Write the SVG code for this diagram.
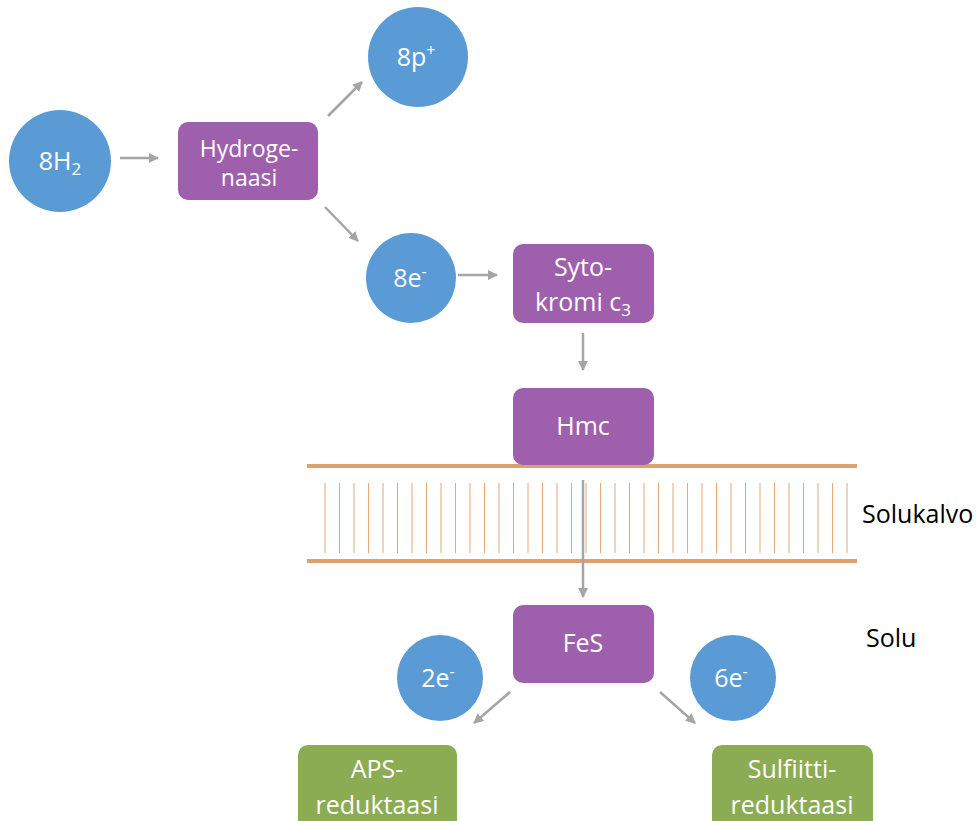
<svg xmlns="http://www.w3.org/2000/svg" width="979" height="821" viewBox="0 0 979 821">
<defs>
<marker id="ah" viewBox="0 0 10 10" refX="9" refY="5" markerWidth="4" markerHeight="4" orient="auto" markerUnits="strokeWidth">
<path d="M0,0 L10,5 L0,10 z" fill="#A5A5A5"/>
</marker>
<style>
.c{fill:#5B9BD5}
.p{fill:#9E5FAD}
.g{fill:#8BAC53}
.t{font-family:"Open Sans","Liberation Sans",sans-serif;fill:#fff;text-anchor:middle;font-size:25px}
.s{font-size:23px}
.k{font-family:"Open Sans","Liberation Sans",sans-serif;fill:#000;font-size:25px}
.a{stroke:#A5A5A5;stroke-width:2.5;fill:none;marker-end:url(#ah)}
.m{stroke:#DDA170;stroke-width:4}
.v{stroke:#E6A875;stroke-width:1}
</style>
</defs>
<rect width="979" height="821" fill="#fff"/>
<g id="membrane">
<line class="m" x1="307" y1="466" x2="857" y2="466"/>
<line class="m" x1="307" y1="561" x2="857" y2="561"/>
<g class="v">
<line x1="325" y1="483" x2="325" y2="553"/><line x1="339.5" y1="483" x2="339.5" y2="553"/><line x1="354" y1="483" x2="354" y2="553"/><line x1="368.5" y1="483" x2="368.5" y2="553"/><line x1="383" y1="483" x2="383" y2="553"/><line x1="397.5" y1="483" x2="397.5" y2="553"/><line x1="412" y1="483" x2="412" y2="553"/><line x1="426.5" y1="483" x2="426.5" y2="553"/><line x1="441" y1="483" x2="441" y2="553"/><line x1="455.5" y1="483" x2="455.5" y2="553"/><line x1="470" y1="483" x2="470" y2="553"/><line x1="484.5" y1="483" x2="484.5" y2="553"/><line x1="499" y1="483" x2="499" y2="553"/><line x1="513.5" y1="483" x2="513.5" y2="553"/><line x1="528" y1="483" x2="528" y2="553"/><line x1="542.5" y1="483" x2="542.5" y2="553"/><line x1="557" y1="483" x2="557" y2="553"/><line x1="571.5" y1="483" x2="571.5" y2="553"/><line x1="586" y1="483" x2="586" y2="553"/><line x1="600.5" y1="483" x2="600.5" y2="553"/><line x1="615" y1="483" x2="615" y2="553"/><line x1="629.5" y1="483" x2="629.5" y2="553"/><line x1="644" y1="483" x2="644" y2="553"/><line x1="658.5" y1="483" x2="658.5" y2="553"/><line x1="673" y1="483" x2="673" y2="553"/><line x1="687.5" y1="483" x2="687.5" y2="553"/><line x1="702" y1="483" x2="702" y2="553"/><line x1="716.5" y1="483" x2="716.5" y2="553"/><line x1="731" y1="483" x2="731" y2="553"/><line x1="745.5" y1="483" x2="745.5" y2="553"/><line x1="760" y1="483" x2="760" y2="553"/><line x1="774.5" y1="483" x2="774.5" y2="553"/><line x1="789" y1="483" x2="789" y2="553"/><line x1="803.5" y1="483" x2="803.5" y2="553"/><line x1="818" y1="483" x2="818" y2="553"/><line x1="832.5" y1="483" x2="832.5" y2="553"/><line x1="847" y1="483" x2="847" y2="553"/>
</g>
</g>
<g id="connectors">
<line class="a" x1="120" y1="158" x2="158" y2="158"/>
<line class="a" x1="328" y1="116" x2="362" y2="82"/>
<line class="a" x1="325" y1="207" x2="358" y2="241"/>
<line class="a" x1="458" y1="275" x2="497" y2="275"/>
<line class="a" x1="583" y1="333" x2="583" y2="370"/>
<line class="a" x1="583" y1="480" x2="583" y2="597"/>
<line class="a" x1="510" y1="692" x2="474" y2="723"/>
<line class="a" x1="660" y1="692" x2="695" y2="723"/>
</g>
<g id="n8H2"><circle class="c" cx="60" cy="161" r="51"/><text class="t" x="60" y="170">8H<tspan style="font-size:17px" dy="5">2</tspan></text></g>
<g id="hydrogenaasi"><rect class="p" x="178" y="122" width="140" height="78" rx="10"/><text class="t s" x="249" y="157">Hydroge-</text><text class="t s" x="249" y="186">naasi</text></g>
<g id="n8p"><circle class="c" cx="418" cy="57" r="50"/><text class="t" x="416" y="66">8p<tspan style="font-size:16px" dy="-10">+</tspan></text></g>
<g id="n8e"><circle class="c" cx="411" cy="278" r="45"/><text class="t" x="410" y="287">8e<tspan style="font-size:16px" dy="-10">-</tspan></text></g>
<g id="sytokromi"><rect class="p" x="513" y="244" width="141" height="79" rx="10"/><text class="t" x="583" y="276">Syto-</text><text class="t" x="583" y="311">kromi c<tspan style="font-size:17px" dy="5">3</tspan></text></g>
<g id="hmc"><rect class="p" x="513" y="388" width="141" height="77" rx="10"/><text class="t" x="583" y="435">Hmc</text></g>
<g id="fes"><rect class="p" x="513" y="605" width="141" height="78" rx="10"/><text class="t" x="583" y="652">FeS</text></g>
<g id="n2e"><circle class="c" cx="440" cy="678" r="43"/><text class="t" x="438" y="687">2e<tspan style="font-size:16px" dy="-10">-</tspan></text></g>
<g id="n6e"><circle class="c" cx="733" cy="678" r="43"/><text class="t" x="731" y="687">6e<tspan style="font-size:16px" dy="-10">-</tspan></text></g>
<g id="aps"><rect class="g" x="298" y="745" width="159" height="86" rx="10"/><text class="t" x="377" y="778">APS-</text><text class="t" x="377" y="814">reduktaasi</text></g>
<g id="sulfiitti"><rect class="g" x="712" y="745" width="161" height="86" rx="10"/><text class="t" x="792" y="778">Sulfiitti-</text><text class="t" x="792" y="814">reduktaasi</text></g>
<text class="k" x="862" y="523">Solukalvo</text>
<text class="k" x="866" y="647">Solu</text>
</svg>
